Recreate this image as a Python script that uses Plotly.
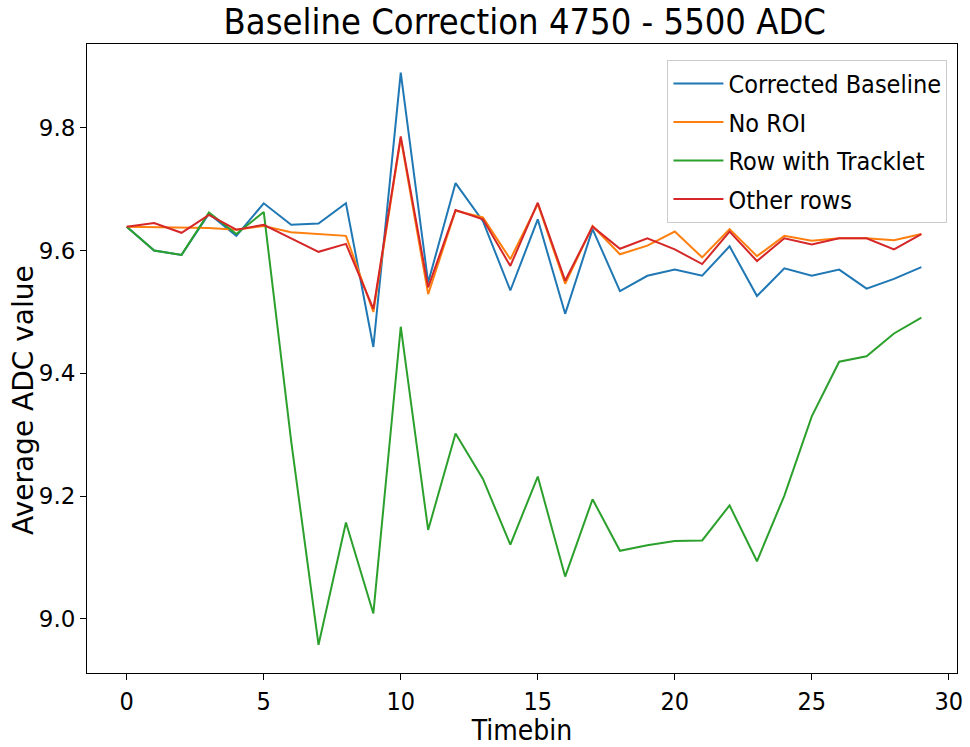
import plotly.graph_objects as go

# Time bins 0..29
timebin = list(range(30))

corrected_baseline = [9.639, 9.600, 9.593, 9.660, 9.624, 9.677, 9.642, 9.644, 9.677, 9.443,
                      9.890, 9.548, 9.710, 9.648, 9.535, 9.651, 9.497, 9.635, 9.534, 9.559,
                      9.569, 9.559, 9.607, 9.526, 9.571, 9.559, 9.569, 9.538, 9.554, 9.573]
no_roi = [9.639, 9.638, 9.638, 9.637, 9.634, 9.640, 9.630, 9.627, 9.624, 9.500,
          9.783, 9.529, 9.665, 9.654, 9.586, 9.676, 9.546, 9.640, 9.594, 9.608,
          9.631, 9.589, 9.635, 9.591, 9.624, 9.616, 9.620, 9.620, 9.617, 9.627]
row_with_tracklet = [9.639, 9.600, 9.593, 9.662, 9.627, 9.663, 9.290, 8.958, 9.157, 9.009,
                     9.476, 9.145, 9.302, 9.228, 9.121, 9.232, 9.069, 9.195, 9.111, 9.120,
                     9.127, 9.128, 9.185, 9.094, 9.201, 9.330, 9.419, 9.428, 9.465, 9.491]
other_rows = [9.639, 9.645, 9.629, 9.658, 9.634, 9.642, 9.620, 9.598, 9.611, 9.505,
              9.786, 9.540, 9.666, 9.651, 9.575, 9.678, 9.551, 9.639, 9.603, 9.620,
              9.602, 9.578, 9.631, 9.583, 9.620, 9.610, 9.620, 9.620, 9.602, 9.627]

series = [
    ("Corrected Baseline", corrected_baseline, "#1f77b4"),
    ("No ROI", no_roi, "#ff7f0e"),
    ("Row with Tracklet", row_with_tracklet, "#2ca02c"),
    ("Other rows", other_rows, "#d62728"),
]

HFONT = "DejaVu Sans Condensed, DejaVu Sans, sans-serif"

fig = go.Figure()
for name, vals, color in series:
    fig.add_trace(go.Scatter(
        x=timebin, y=vals, mode="lines", name=name, legendgroup=name,
        line=dict(color=color, width=2),
    ))

axis_common = dict(
    showline=True, linecolor="black", linewidth=1, mirror=True,
    ticks="outside", ticklen=6, tickcolor="black", showgrid=False, zeroline=False,
)

fig.update_layout(
    width=970, height=747,
    margin=dict(l=87, r=7, t=44, b=72),
    paper_bgcolor="white", plot_bgcolor="white",
    title=dict(text="Baseline Correction 4750 - 5500 ADC", x=0.541, xanchor="center",
               y=0.971, yanchor="middle",
               font=dict(family=HFONT, size=36, color="black")),
    xaxis=dict(range=[-1.45, 30.3], tickvals=[0, 5, 10, 15, 20, 25, 30],
               tickfont=dict(family=HFONT, size=25, color="black"),
               title=dict(text="Timebin", standoff=4,
                          font=dict(family=HFONT, size=28, color="black")),
               **axis_common),
    yaxis=dict(range=[8.912, 9.9365], tickvals=[9.0, 9.2, 9.4, 9.6, 9.8], tickformat=".1f",
               tickfont=dict(family="DejaVu Sans", size=23, color="black"),
               **axis_common),
    legend=dict(x=0.989, y=0.975, xanchor="right", yanchor="top",
                bgcolor="rgba(255,255,255,0.8)", bordercolor="#cccccc", borderwidth=1,
                font=dict(family=HFONT, size=25, color="black"),
                tracegroupgap=3, itemwidth=50),
    showlegend=True,
)

# y-axis label placed left of the tick labels
fig.add_annotation(
    text="Average ADC value", textangle=-90, showarrow=False,
    xref="paper", yref="paper", x=-0.073, y=0.435, xanchor="center", yanchor="middle",
    font=dict(family="DejaVu Sans", size=28, color="black"),
)

fig.write_html("out.html")
